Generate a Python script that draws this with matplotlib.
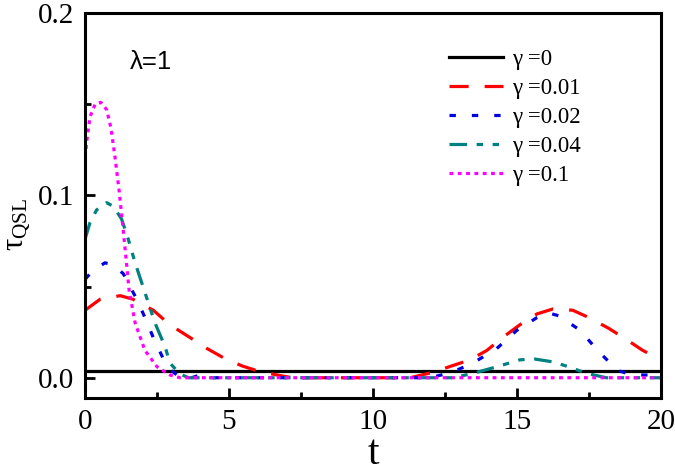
import matplotlib
matplotlib.use("Agg")
import matplotlib.pyplot as plt
from matplotlib.ticker import MultipleLocator

plt.rcParams['font.family'] = ['Liberation Serif', 'DejaVu Serif']
plt.rcParams['mathtext.fontset'] = 'custom'
plt.rcParams['mathtext.rm'] = 'Liberation Serif'
plt.rcParams['mathtext.it'] = 'Liberation Serif:italic'

# valores
t_g0 = [0, 20]
q_g0 = [0.0035, 0.0035]

t_g001 = [0, 0.52, 1.22, 1.67, 2.37, 2.95, 3.65, 4.24, 4.8, 5.45, 6.0, 6.67, 7.2,
          11.3, 12.08, 12.74, 13.37, 13.96, 14.5, 15.1, 15.7, 16.25, 16.94, 17.5,
          18.2, 18.8, 19.37, 20]
q_g001 = [0.037, 0.043, 0.045, 0.043, 0.037, 0.029, 0.022, 0.016, 0.011, 0.0065,
          0.0037, 0.0015, 0.0, 0.0, 0.003, 0.0065, 0.0098, 0.015, 0.022, 0.029,
          0.035, 0.0377, 0.037, 0.033, 0.027, 0.021, 0.015, 0.010]

t_g002 = [0, 0.29, 0.69, 0.98, 1.33, 1.56, 1.8, 2.08, 2.37, 2.7, 3.0, 3.3, 3.7,
          4.0, 4.3, 12.0, 12.74, 13.47, 14.3, 15.0, 15.7, 16.1, 16.45, 17.2, 17.8,
          18.5, 19.0, 20]
q_g002 = [0.054, 0.059, 0.063, 0.062, 0.057, 0.050, 0.043, 0.033, 0.022, 0.011,
          0.004, 0.0, 0.0, 0.0015, 0.0, 0.0, 0.003, 0.008, 0.016, 0.026, 0.033,
          0.0355, 0.034, 0.026, 0.015, 0.004, 0.0015, 0.0015]

t_g004 = [0, 0.17, 0.4, 0.75, 0.98, 1.27, 1.5, 1.74, 1.97, 2.2, 2.43, 2.78, 2.95,
          3.3, 3.6, 12.8, 13.5, 14.3, 15.1, 15.6, 16.25, 16.8, 17.4, 18.1, 20]
q_g004 = [0.076, 0.085, 0.092, 0.096, 0.094, 0.087, 0.076, 0.063, 0.052, 0.041,
          0.030, 0.017, 0.008, 0.002, 0.0, 0.0, 0.0025, 0.006, 0.0098, 0.0103,
          0.0087, 0.006, 0.0025, 0.0, 0.0]

t_g01 = [0, 0.07, 0.17, 0.35, 0.55, 0.75, 0.9, 1.04, 1.18, 1.3, 1.42, 1.53, 1.74,
         2.08, 2.5, 2.95, 3.3, 20]
q_g01 = [0.121, 0.131, 0.143, 0.150, 0.151, 0.147, 0.137, 0.121, 0.103, 0.085,
         0.066, 0.048, 0.030, 0.015, 0.006, 0.0015, 0.0, 0.0]

rotulos = ['γ =0', 'γ =0.01', 'γ =0.02', 'γ =0.04', 'γ =0.1']

fig = plt.figure(figsize=(6.75, 4.73), dpi=100)
ax = fig.add_axes([0.126, 0.159, 0.853, 0.8135])

lw = 2.3
ax.plot(t_g0, q_g0, color='black', lw=lw, label=rotulos[0])
ax.plot(t_g001, q_g001, color='#FF0000', lw=lw, dashes=(6, 5), label=rotulos[1])
ax.plot(t_g002, q_g002, color='#0000E0', lw=lw, dashes=(2, 5), label=rotulos[2])
ax.plot(t_g004, q_g004, color='#008080', lw=lw, dashes=(5.5, 3, 2, 3, 2, 3), label=rotulos[3])
ax.plot(t_g01, q_g01, color='#FF00FF', lw=lw, dashes=(1.2, 1.4), label=rotulos[4])

ax.set_xlim(0, 20)
ax.set_ylim(-0.011, 0.2)
ax.xaxis.set_major_locator(MultipleLocator(5))
ax.xaxis.set_minor_locator(MultipleLocator(2.5))
ax.yaxis.set_major_locator(MultipleLocator(0.1))
ax.yaxis.set_minor_locator(MultipleLocator(0.05))
ax.xaxis.set_major_formatter(plt.FuncFormatter(lambda v, p: '%d' % v))
ax.yaxis.set_major_formatter(plt.FuncFormatter(lambda v, p: '%.1f' % v))

for s in ax.spines.values():
    s.set_linewidth(2.2)
ax.tick_params(which='both', direction='in', width=2.0, labelsize=21, pad=8,
               top=False, right=False)
ax.tick_params(which='major', length=7)
ax.tick_params(which='minor', length=4.5)

ax.set_xlabel('t', fontsize=30, labelpad=0)
ax.set_ylabel(r'$\mathrm{\tau_{QSL}}$', fontsize=22)
ax.yaxis.set_label_coords(-0.093, 0.45)

ax.text(0.078, 0.873, 'λ=1', transform=ax.transAxes, fontsize=18.5,
        family='Liberation Sans', ha='left', va='center')

leg = ax.legend(loc='upper left', bbox_to_anchor=(449 / 675, 1 - 49 / 473),
                bbox_transform=fig.transFigure, frameon=False, fontsize=16.5,
                handlelength=2.36, handletextpad=0.4, labelspacing=0.35,
                borderpad=0, borderaxespad=0)

fig.savefig('out.png', dpi=100)
